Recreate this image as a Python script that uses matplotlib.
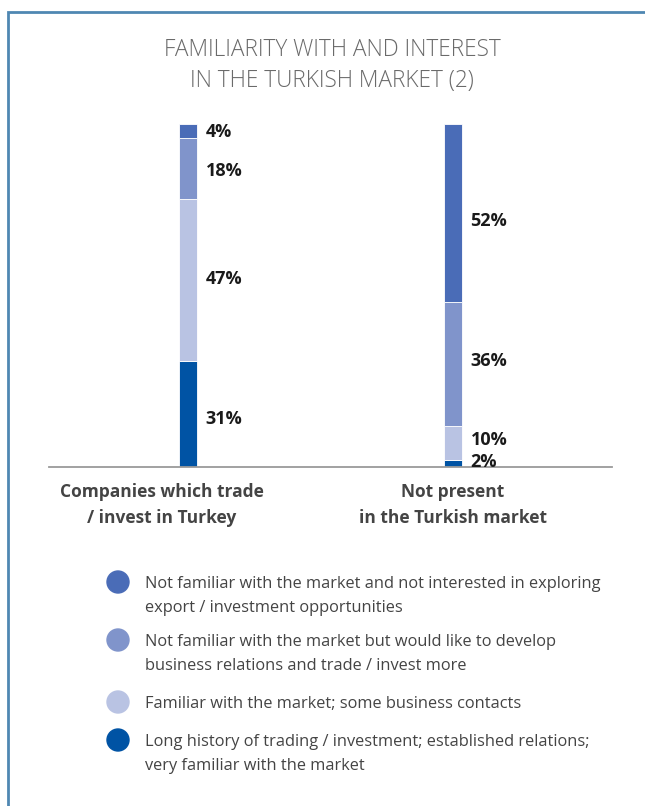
import matplotlib.pyplot as plt
from matplotlib.patches import Circle

categories = ["Companies which trade\n/ invest in Turkey", "Not present\nin the Turkish market"]
# stacked from bottom to top
long_history = [31, 2]
familiar = [47, 10]
would_like = [18, 36]
not_interested = [4, 52]

legend_labels = [
    "Not familiar with the market and not interested in exploring\nexport / investment opportunities",
    "Not familiar with the market but would like to develop\nbusiness relations and trade / invest more",
    "Familiar with the market; some business contacts",
    "Long history of trading / investment; established relations;\nvery familiar with the market",
]

c_dark = "#0053a4"
c_light = "#b9c3e3"
c_mid = "#8094cb"
c_top = "#4a6cb7"

W, H = 645, 806
fig = plt.figure(figsize=(W / 100, H / 100), dpi=100)

# bar axes placed in pixel terms
x0, x1, yb, yt = 49, 612, 467, 124
ax = fig.add_axes([x0 / W, 1 - yb / H, (x1 - x0) / W, (yb - yt) / H])
pos = [0, 1]
bw = 0.068
series = [long_history, familiar, would_like, not_interested]
colors = [c_dark, c_light, c_mid, c_top]
# small nudges of the value labels (in points), per series and bar
nudge = [[-3.5, 1.2], [1, 2], [-1.5, 2.5], [-0.5, -5.5]]
bottom = [0, 0]
for vals, col, dy in zip(series, colors, nudge):
    ax.bar(pos, vals, bw, bottom=bottom, color=col, edgecolor="white", linewidth=0.6)
    for i, v in enumerate(vals):
        ax.annotate(f"{v}%", (pos[i] + 0.066, bottom[i] + v / 2), xytext=(0, dy[i]),
                    textcoords="offset points", ha="left", va="center",
                    fontsize=13, fontweight="bold", color="#1a1a1a", family="Open Sans")
    bottom = [b + v for b, v in zip(bottom, vals)]
ax.set_xlim(-0.525, 1.6)
ax.set_ylim(0, 100)
for s in ["top", "right", "left"]:
    ax.spines[s].set_visible(False)
ax.spines["bottom"].set_color("#9a9a9a")
ax.spines["bottom"].set_linewidth(1.3)
ax.set_xticks([])
ax.set_yticks([])
ax.patch.set_alpha(0)

# overlay in pixel coordinates for frame, title, labels and legend
ov = fig.add_axes([0, 0, 1, 1], zorder=-1)
ov.set_xlim(0, W)
ov.set_ylim(H, 0)
ov.axis("off")
ov.plot([8, 8, W], [H, 12, 12], color="#4f87b2", linewidth=2, solid_joinstyle="miter")

ov.text(332, 50, "FAMILIARITY WITH AND INTEREST", ha="center", va="center",
        fontsize=16.3, color="#6a6a6a", family="Open Sans", fontweight="light")
ov.text(332, 81, "IN THE TURKISH MARKET (2)", ha="center", va="center",
        fontsize=16.3, color="#6a6a6a", family="Open Sans", fontweight="light")

for cx, cat in zip([162, 453], categories):
    for k, line in enumerate(cat.split("\n")):
        ov.text(cx, 492 + 26 * k, line, ha="center", va="center", fontsize=12.5,
                fontweight="bold", color="#444444", family="Open Sans")

leg_y = [582, 640, 702, 740]
leg_cols = [c_top, c_mid, c_light, c_dark]
for y, lab, col in zip(leg_y, legend_labels, leg_cols):
    ov.add_patch(Circle((118, y), 11, color=col))
    for k, line in enumerate(lab.split("\n")):
        ov.text(145, y + 2 + 24.5 * k, line, ha="left", va="center", fontsize=11.8,
                color="#444444", family="Open Sans")

fig.savefig("out.png", dpi=100)
